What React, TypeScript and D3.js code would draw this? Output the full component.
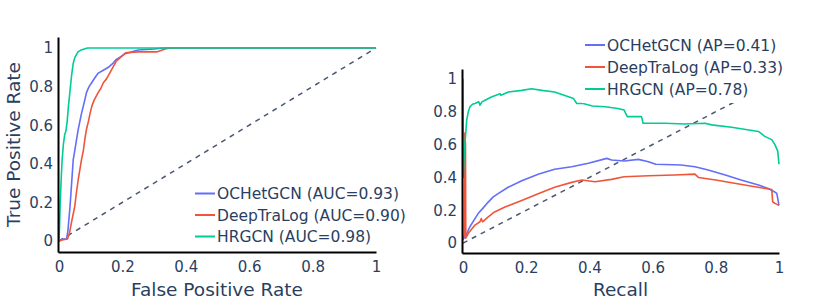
import React, { useRef, useEffect } from 'react';
import * as d3 from 'd3';

type Pt = [number, number];

const seriesNames = ['OCHetGCN', 'DeepTraLog', 'HRGCN'];
const seriesColors = ['#636efa', '#EF553B', '#00cc96'];
const aucValues = ['0.93', '0.90', '0.98'];
const apValues = ['0.41', '0.33', '0.78'];
const tickValues = [0, 0.2, 0.4, 0.6, 0.8, 1];

// ROC curves (fpr, tpr)
const rocOCHetGCN: Pt[] = [
  [0, 0], [0.01, 0.01], [0.024, 0.01], [0.028, 0.05], [0.035, 0.18], [0.04, 0.3], [0.045, 0.42],
  [0.05, 0.47], [0.056, 0.53], [0.061, 0.58], [0.066, 0.62], [0.071, 0.66], [0.08, 0.72],
  [0.087, 0.77], [0.095, 0.8], [0.103, 0.82], [0.115, 0.85], [0.124, 0.87], [0.14, 0.885],
  [0.156, 0.9], [0.17, 0.92], [0.18, 0.94], [0.195, 0.955], [0.208, 0.97], [0.23, 0.98],
  [0.25, 0.99], [0.3, 0.995], [0.33, 1], [1, 1],
];
const rocDeepTraLog: Pt[] = [
  [0, 0], [0.01, 0.005], [0.027, 0.01], [0.033, 0.04], [0.04, 0.1], [0.05, 0.18], [0.055, 0.25],
  [0.061, 0.32], [0.066, 0.37], [0.071, 0.42], [0.077, 0.47], [0.082, 0.53], [0.087, 0.58],
  [0.093, 0.62], [0.098, 0.66], [0.104, 0.7], [0.111, 0.73], [0.124, 0.77], [0.132, 0.79],
  [0.14, 0.82], [0.15, 0.84], [0.16, 0.87], [0.17, 0.9], [0.18, 0.93], [0.19, 0.945],
  [0.2, 0.96], [0.21, 0.975], [0.25, 0.98], [0.31, 0.98], [0.335, 0.995], [0.35, 1], [1, 1],
];
const rocHRGCN: Pt[] = [
  [0, 0], [0.002, 0.08], [0.004, 0.2], [0.007, 0.32], [0.01, 0.42], [0.014, 0.5], [0.018, 0.55],
  [0.022, 0.57], [0.026, 0.62], [0.03, 0.7], [0.035, 0.78], [0.04, 0.86], [0.045, 0.92],
  [0.05, 0.95], [0.06, 0.98], [0.07, 0.99], [0.09, 1], [1, 1],
];

// PR curves (recall, precision)
const prOCHetGCN: Pt[] = [
  [0, 0.02], [0.01, 0.05], [0.022, 0.1], [0.035, 0.14], [0.048, 0.18], [0.062, 0.21], [0.08, 0.25],
  [0.095, 0.28], [0.11, 0.3], [0.143, 0.34], [0.186, 0.38], [0.238, 0.42], [0.29, 0.45], [0.344, 0.465],
  [0.397, 0.486], [0.455, 0.516], [0.47, 0.506], [0.51, 0.5], [0.555, 0.51], [0.587, 0.496],
  [0.61, 0.48], [0.69, 0.476], [0.734, 0.465], [0.776, 0.445], [0.83, 0.415], [0.88, 0.384],
  [0.935, 0.354], [0.966, 0.333], [0.985, 0.313], [0.993, 0.303], [1, 0.23],
];
const prDeepTraLog: Pt[] = [
  [0, 0.02], [0.004, 0.05], [0.006, 0.67], [0.008, 0.6], [0.009, 0.03], [0.017, 0.06],
  [0.038, 0.11], [0.054, 0.13], [0.058, 0.15], [0.062, 0.13], [0.08, 0.16], [0.1, 0.19],
  [0.133, 0.22], [0.186, 0.26], [0.238, 0.3], [0.29, 0.34], [0.344, 0.37], [0.376, 0.384],
  [0.418, 0.374], [0.47, 0.388], [0.51, 0.404], [0.587, 0.41], [0.67, 0.415], [0.734, 0.42],
  [0.745, 0.4], [0.8, 0.384], [0.85, 0.368], [0.924, 0.343], [0.977, 0.327], [0.98, 0.252],
  [0.987, 0.242], [1, 0.23],
];
const prHRGCN: Pt[] = [
  [0, 1], [0.001, 0.4], [0.004, 0.55], [0.008, 0.65], [0.012, 0.75], [0.017, 0.8], [0.022, 0.83],
  [0.03, 0.845], [0.038, 0.85], [0.05, 0.86], [0.054, 0.84], [0.06, 0.86], [0.07, 0.87],
  [0.09, 0.89], [0.117, 0.91], [0.12, 0.9], [0.144, 0.92], [0.186, 0.93], [0.217, 0.94],
  [0.25, 0.93], [0.29, 0.92], [0.32, 0.9], [0.35, 0.88], [0.36, 0.85], [0.38, 0.85],
  [0.41, 0.835], [0.45, 0.83], [0.49, 0.82], [0.51, 0.81], [0.52, 0.77], [0.565, 0.77],
  [0.57, 0.73], [0.64, 0.73], [0.7, 0.725], [0.766, 0.73], [0.787, 0.72], [0.85, 0.705],
  [0.9, 0.69], [0.935, 0.68], [0.955, 0.65], [0.977, 0.63], [0.987, 0.6], [0.996, 0.56],
  [1, 0.48],
];

const diagonal: Pt[] = [[0, 0], [1, 1]];

const FONT = '"DejaVu Sans", Verdana, sans-serif';
const TEXT_COLOR = '#2a3f5f';

interface PanelProps {
  curves: Pt[][];
  labels: string[];
  xTitle: string;
  yTitle?: string;
  x0: number; x1: number; y0: number; y1: number; // axis line pixels
  xDomain: [number, number];
  yDomain: [number, number];
  legendX: number;
  legendY: number;
  legendGap: number;
  legendBox?: [number, number, number, number];
}

const Panel: React.FC<PanelProps> = (p) => {
  const gRef = useRef<SVGGElement>(null);

  useEffect(() => {
    if (!gRef.current) return;
    const g = d3.select(gRef.current);
    g.selectAll('*').remove();

    const x = d3.scaleLinear().domain(p.xDomain).range([p.x0, p.x1]);
    const y = d3.scaleLinear().domain(p.yDomain).range([p.y1, p.y0]);
    const line = d3.line<Pt>().x(d => x(d[0])).y(d => y(d[1]));

    // diagonal reference
    g.append('path')
      .attr('d', line(diagonal))
      .attr('fill', 'none')
      .attr('stroke', '#4b5775')
      .attr('stroke-width', 1.5)
      .attr('stroke-dasharray', '5,5');

    p.curves.forEach((c, i) => {
      g.append('path')
        .attr('d', line(c))
        .attr('fill', 'none')
        .attr('stroke', seriesColors[i])
        .attr('stroke-width', 1.6)
        .attr('stroke-linejoin', 'round');
    });

    const fmt = (d: d3.NumberValue) => d3.format('~g')(d as number);

    const xAxis = g.append('g')
      .attr('transform', `translate(0, ${p.y1})`)
      .call(d3.axisBottom(x).tickValues(tickValues).tickFormat(fmt).tickSize(0).tickPadding(9));
    const yAxis = g.append('g')
      .attr('transform', `translate(${p.x0}, 0)`)
      .call(d3.axisLeft(y).tickValues(tickValues).tickFormat(fmt).tickSize(0).tickPadding(5));

    [xAxis, yAxis].forEach(a => {
      a.select('.domain').attr('stroke', '#000').attr('stroke-width', 2);
      a.selectAll('text')
        .attr('fill', TEXT_COLOR)
        .style('font-family', FONT)
        .style('font-size', '15px');
    });

    g.append('text')
      .attr('x', (p.x0 + p.x1) / 2)
      .attr('y', 295.5)
      .attr('text-anchor', 'middle')
      .style('font-family', FONT)
      .style('font-size', '18.5px')
      .attr('fill', TEXT_COLOR)
      .text(p.xTitle);

    if (p.yTitle) {
      g.append('text')
        .attr('transform', `translate(19.5, ${(p.y0 + p.y1) / 2}) rotate(-90)`)
        .attr('text-anchor', 'middle')
        .style('font-family', FONT)
        .style('font-size', '18.5px')
        .attr('fill', TEXT_COLOR)
        .text(p.yTitle);
    }

    // legend
    const lg = g.append('g');
    if (p.legendBox) {
      const [bx, by, bw, bh] = p.legendBox;
      lg.append('rect').attr('x', bx).attr('y', by).attr('width', bw).attr('height', bh).attr('fill', '#fff');
    }
    p.labels.forEach((lab, i) => {
      const ly = p.legendY + i * p.legendGap;
      lg.append('line')
        .attr('x1', p.legendX).attr('x2', p.legendX + 20)
        .attr('y1', ly).attr('y2', ly)
        .attr('stroke', seriesColors[i])
        .attr('stroke-width', 2);
      lg.append('text')
        .attr('x', p.legendX + 22)
        .attr('y', ly)
        .attr('dy', '0.36em')
        .style('font-family', FONT)
        .style('font-size', '15.5px')
        .attr('fill', TEXT_COLOR)
        .text(lab);
    });
  }, [p]);

  return <g ref={gRef} />;
};

export default function App() {
  const rocLabels = seriesNames.map((n, i) => `${n} (AUC=${aucValues[i]})`);
  const prLabels = seriesNames.map((n, i) => `${n} (AP=${apValues[i]})`);
  return (
    <svg width={830} height={306} style={{ position: 'absolute', left: 0, top: 0, background: '#fff' }}>
      <Panel
        curves={[rocOCHetGCN, rocDeepTraLog, rocHRGCN]}
        labels={rocLabels}
        xTitle="False Positive Rate"
        yTitle="True Positive Rate"
        x0={58} x1={376} y0={37} y1={252}
        xDomain={[-0.003, 1]}
        yDomain={[-0.057, 1.057]}
        legendX={195}
        legendY={193.5}
        legendGap={21.5}
      />
      <Panel
        curves={[prOCHetGCN, prDeepTraLog, prHRGCN]}
        labels={prLabels}
        xTitle="Recall"
        x0={462} x1={779} y0={69} y1={253}
        xDomain={[-0.003, 1]}
        yDomain={[-0.06, 1.06]}
        legendX={585}
        legendY={45}
        legendGap={22}
        legendBox={[582, 33, 210, 70]}
      />
    </svg>
  );
}
